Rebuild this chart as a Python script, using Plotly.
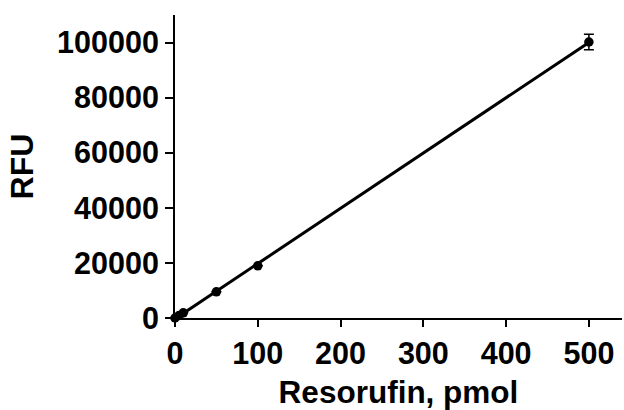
import numpy as np
import plotly.graph_objects as go

pmol = [0, 5, 10, 50, 100, 500]
rfu = [0, 950, 1900, 9500, 18950, 100200]
rfu_err = [0, 0, 0, 0, 0, 2800]

x_ticks = [0, 100, 200, 300, 400, 500]
y_ticks = [0, 20000, 40000, 60000, 80000, 100000]

slope, intercept = np.polyfit(pmol, rfu, 1)
fit_x = [min(pmol), max(pmol)]
fit_y = [slope * v + intercept for v in fit_x]

font = "Liberation Sans, Arial, sans-serif"

fig = go.Figure()
fig.add_trace(go.Scatter(x=fit_x, y=fit_y, mode="lines",
                         line=dict(color="black", width=3), cliponaxis=False,
                         showlegend=False))
fig.add_trace(go.Scatter(x=pmol, y=rfu, mode="markers",
                         marker=dict(color="black", size=9.5),
                         error_y=dict(type="data", array=rfu_err, color="black",
                                      thickness=1.5, width=5),
                         cliponaxis=False, showlegend=False))

fig.update_layout(
    width=624, height=410,
    margin=dict(l=175, r=2, t=15, b=92),
    plot_bgcolor="white", paper_bgcolor="white",
    font=dict(family=font, color="black"),
)
fig.update_xaxes(range=[0, 540], tickvals=x_ticks, ticktext=[str(v) for v in x_ticks],
                 showgrid=False, zeroline=False, showline=True, linecolor="black",
                 linewidth=2, ticks="outside", ticklen=7, tickwidth=2, tickcolor="black",
                 tickfont=dict(size=30.5, family=font, weight="bold"),
                 title=dict(text="<b>Resorufin, pmol</b>", font=dict(size=31.5, family=font),
                            standoff=12),
                 automargin=False)
fig.update_yaxes(range=[0, 110000], tickvals=y_ticks, ticktext=[str(v) for v in y_ticks],
                 showgrid=False, zeroline=False, showline=True, linecolor="black",
                 linewidth=2, ticks="outside", ticklen=8, tickwidth=2, tickcolor="black",
                 tickfont=dict(size=30.5, family=font, weight="bold"),
                 title=dict(text="<b>RFU</b>", font=dict(size=32, family=font), standoff=14),
                 automargin=False)

fig.write_html("out.html",
               config={"displayModeBar": False},
               post_script="document.body.style.margin='0';"
                           "document.documentElement.style.overflow='hidden';"
                           "document.body.style.overflow='hidden';")
